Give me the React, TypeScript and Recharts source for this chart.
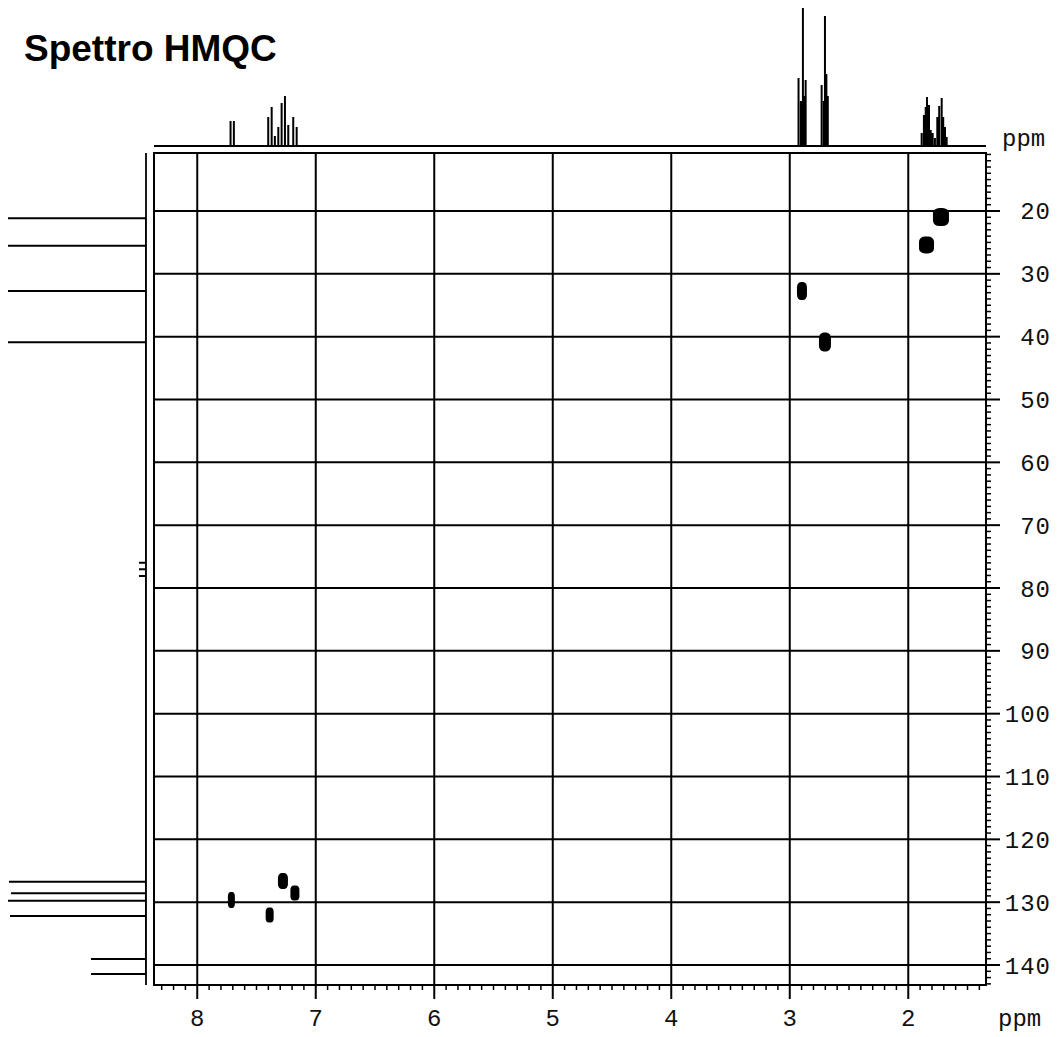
import React from 'react';
import { ComposedChart, Line, Scatter, XAxis, YAxis, ReferenceLine, ReferenceArea } from 'recharts';

const W = 1061;
const H = 1037;

// ---- 1H projection (top): chemical shift (ppm) and relative line intensity
const protonShifts = [
  7.719, 7.691,
  7.401, 7.372, 7.345, 7.316, 7.288, 7.26, 7.232, 7.19, 7.161,
  2.926, 2.906, 2.889, 2.874, 2.866,
  2.731, 2.712, 2.703, 2.691, 2.679,
  1.887, 1.868, 1.853, 1.842, 1.825, 1.811, 1.794,
  1.775, 1.755, 1.739, 1.718, 1.705, 1.69, 1.676,
];
const protonIntensities = [
  25, 25,
  29, 39, 10, 19, 43, 50, 21, 29, 19,
  68, 45, 138, 50, 66,
  61, 45, 130, 72, 50,
  13, 31, 39, 49, 41, 16, 13,
  8, 29, 40, 48, 29, 19, 9,
];

// ---- 13C projection (left)
const carbonShifts = [21.16, 25.52, 32.73, 40.9, 75.97, 77.02, 78.09, 126.74, 128.59, 129.77, 132.2, 139.05, 141.44];
const carbonIntensities = [138, 138, 138, 138, 7, 7, 7, 137, 135, 138, 136, 55, 55];

// ---- HMQC cross peaks (1H ppm, 13C ppm)
const crossH = [7.712, 7.389, 7.277, 7.176, 2.897, 2.703, 1.846, 1.724];
const crossC = [129.66, 132.05, 126.64, 128.55, 32.73, 40.85, 25.41, 20.95];

// ---- axis ticks
const xMajorTicks = [8, 7, 6, 5, 4, 3, 2];
const yMajorTicks = [20, 30, 40, 50, 60, 70, 80, 90, 100, 110, 120, 130, 140];

const X_DOMAIN: [number, number] = [1.344, 8.365];
const Y_DOMAIN: [number, number] = [10.77, 143.18];
const I_DOMAIN: [number, number] = [0, 138];

// blob sizes (px) for the cross peak contours
const BLOB_W = [7, 8, 10, 9, 10, 12, 15, 16];
const BLOB_H = [16, 15, 16, 15, 18, 19, 17, 18];

const xMinorTicks: number[] = [];
for (let k = 14; k <= 83; k++) xMinorTicks.push(k / 10);
const yMinorTicks: number[] = [];
for (let k = 11; k <= 143; k++) yMinorTicks.push(k);

const crossPeaks = crossH.map((h, i) => ({ h, c: crossC[i] }));

const protonTrace: { ppm: number; v: number }[] = [];
protonShifts.forEach((ppm, i) => {
  protonTrace.push({ ppm, v: 0 }, { ppm, v: protonIntensities[i] }, { ppm, v: 0 });
});
const carbonTrace: { ppm: number; v: number }[] = [];
carbonShifts.forEach((ppm, i) => {
  carbonTrace.push({ ppm, v: 0 }, { ppm, v: carbonIntensities[i] }, { ppm, v: 0 });
});

const MONO = "'Liberation Mono', 'Courier New', monospace";

const isMajor = (arr: number[], v: number) => arr.some((t) => Math.abs(t - v) < 1e-6);

const XTick = (props: any) => {
  const { x, y, payload } = props;
  const v = payload.value;
  const major = isMajor(xMajorTicks, v);
  return (
    <g>
      <line x1={x} x2={x} y1={y} y2={y + (major ? 14 : 5)} stroke="#000" strokeWidth={major ? 2 : 1.5} />
      {major && (
        <text x={x} y={y + 41} textAnchor="middle" fontFamily={MONO} fontSize={24} fill="#111">
          {v}
        </text>
      )}
    </g>
  );
};

const YTick = (props: any) => {
  const { x, y, payload } = props;
  const v = payload.value;
  const major = isMajor(yMajorTicks, v);
  return (
    <g>
      <line x1={x} x2={x + (major ? 14 : 5)} y1={y} y2={y} stroke="#000" strokeWidth={major ? 2 : 1.5} />
      {major && (
        <text x={x + 65} y={y + 8.5} textAnchor="end" fontFamily={MONO} fontSize={24} letterSpacing={1} fill="#111">
          {v}
        </text>
      )}
    </g>
  );
};

const Blob = (props: any) => {
  const { cx, cy, payload } = props;
  const i = crossPeaks.findIndex((p) => p.h === payload.h && p.c === payload.c);
  const w = BLOB_W[i] ?? 8;
  const h = BLOB_H[i] ?? 15;
  return <rect x={cx - w / 2} y={cy - h / 2} width={w} height={h} rx={w * 0.4} ry={h * 0.3} fill="#000" />;
};

export default function App() {
  return (
    <div style={{ position: 'absolute', left: 0, top: 0, width: W, height: H, background: '#fff', overflow: 'hidden' }}>
      {/* main 2D map */}
      <div style={{ position: 'absolute', left: 0, top: 0 }}>
        <ComposedChart width={W} height={H} data={crossPeaks} margin={{ top: 153, left: 154, right: 0, bottom: 0 }}>
          <XAxis
            type="number"
            dataKey="h"
            domain={X_DOMAIN}
            reversed
            allowDataOverflow
            ticks={xMinorTicks}
            interval={0}
            tickSize={0}
            tickMargin={0}
            axisLine={false}
            height={52}
            tick={(p: any) => <XTick {...p} />}
          />
          <YAxis
            type="number"
            dataKey="c"
            orientation="right"
            domain={Y_DOMAIN}
            reversed
            allowDataOverflow
            ticks={yMinorTicks}
            interval={0}
            tickSize={0}
            tickMargin={0}
            axisLine={false}
            width={75}
            tick={(p: any) => <YTick {...p} />}
          />
          {xMajorTicks.map((t) => (
            <ReferenceLine key={'vx' + t} x={t} stroke="#000" strokeWidth={2} />
          ))}
          {yMajorTicks.map((t) => (
            <ReferenceLine key={'hy' + t} y={t} stroke="#000" strokeWidth={2} />
          ))}
          <ReferenceArea
            x1={X_DOMAIN[0]}
            x2={X_DOMAIN[1]}
            y1={Y_DOMAIN[0]}
            y2={Y_DOMAIN[1]}
            fill="none"
            fillOpacity={0}
            stroke="#000"
            strokeWidth={2}
            ifOverflow="visible"
          />
          <Scatter data={crossPeaks} dataKey="c" shape={(p: any) => <Blob {...p} />} isAnimationActive={false} />
        </ComposedChart>
      </div>

      {/* 1H projection on top */}
      <div style={{ position: 'absolute', left: 0, top: 0 }}>
        <ComposedChart width={W} height={160} data={protonTrace} margin={{ top: 8, left: 154, right: 75, bottom: 14 }}>
          <XAxis type="number" dataKey="ppm" domain={X_DOMAIN} reversed allowDataOverflow hide />
          <YAxis type="number" domain={I_DOMAIN} allowDataOverflow hide />
          <ReferenceLine y={0} stroke="#000" strokeWidth={1.8} />
          <Line
            type="linear"
            dataKey="v"
            stroke="#000"
            strokeWidth={2}
            dot={false}
            activeDot={false}
            isAnimationActive={false}
          />
        </ComposedChart>
      </div>

      {/* 13C projection on the left */}
      <div style={{ position: 'absolute', left: 0, top: 0 }}>
        <ComposedChart
          layout="vertical"
          width={160}
          height={H}
          data={carbonTrace}
          margin={{ top: 153, left: 8, right: 14, bottom: 52 }}
        >
          <XAxis type="number" dataKey="v" domain={I_DOMAIN} reversed allowDataOverflow hide />
          <YAxis type="number" dataKey="ppm" domain={Y_DOMAIN} allowDataOverflow hide />
          <ReferenceLine x={0} stroke="#000" strokeWidth={1.8} />
          <Line
            type="linear"
            dataKey="v"
            stroke="#000"
            strokeWidth={2}
            dot={false}
            activeDot={false}
            isAnimationActive={false}
          />
        </ComposedChart>
      </div>

      {/* texts */}
      <svg width={W} height={H} style={{ position: 'absolute', left: 0, top: 0, pointerEvents: 'none' }}>
        <text x={24} y={61} fontFamily="'Liberation Sans', Arial, sans-serif" fontWeight="bold" fontSize={37} fill="#000">
          Spettro HMQC
        </text>
        <text x={1002} y={146} fontFamily={MONO} fontSize={24} fill="#111">
          ppm
        </text>
        <text x={998} y={1026} fontFamily={MONO} fontSize={24} fill="#111">
          ppm
        </text>
      </svg>
    </div>
  );
}
